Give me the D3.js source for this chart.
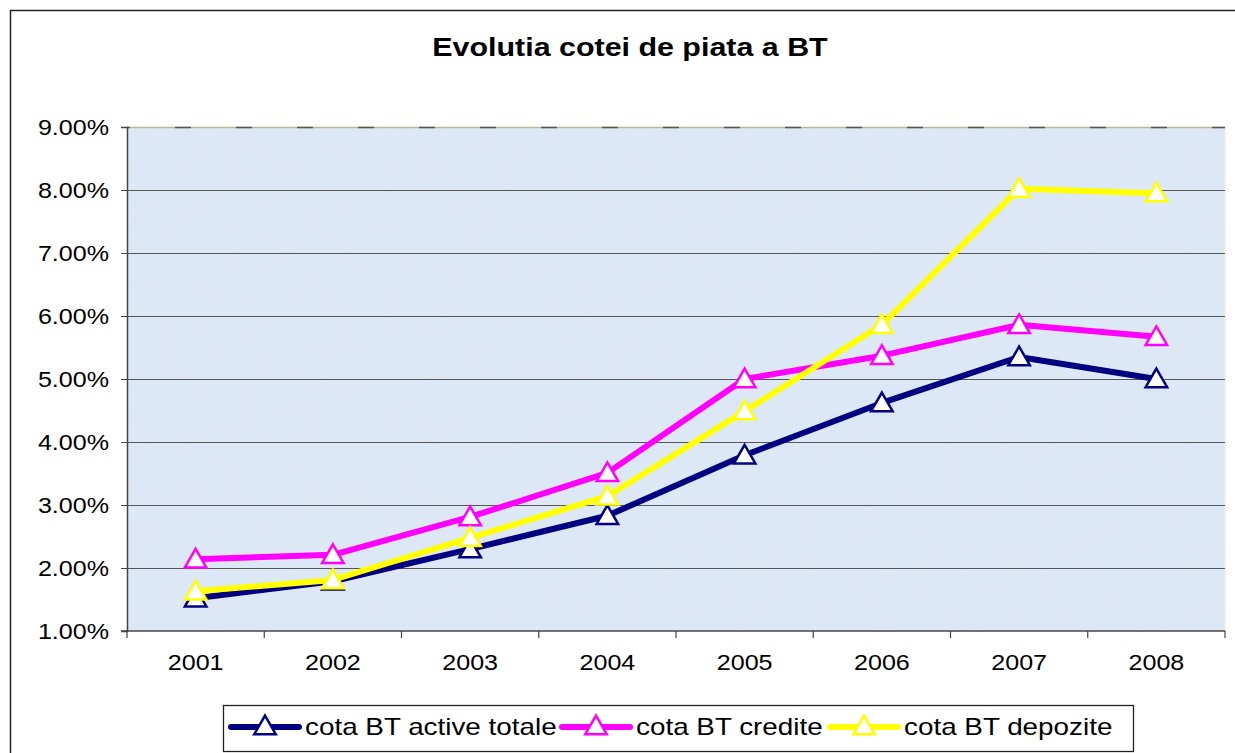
<!DOCTYPE html>
<html><head><meta charset="utf-8">
<script src="https://cdn.jsdelivr.net/npm/d3@7"></script>
<style>body{margin:0;background:#fff}svg{display:block}</style>
</head><body>
<svg id="c" width="1235" height="753"></svg>
<script>
const categories = ["2001","2002","2003","2004","2005","2006","2007","2008"];
const activeTotale = [1.52,1.79,2.30,2.83,3.79,4.62,5.35,5.00];
const credite = [2.14,2.21,2.81,3.51,5.00,5.37,5.86,5.67];
const depozite = [1.63,1.81,2.48,3.14,4.49,5.86,8.02,7.95];
const yTicks = [1,2,3,4,5,6,7,8,9];
const seriesNames = ["cota BT active totale","cota BT credite","cota BT depozite"];
const seriesColors = ["#000080","#ff00ff","#ffff00"];
const title = "Evolutia cotei de piata a BT";

const svg = d3.select("#c");
const font = "Arial, 'Liberation Sans', sans-serif";
const L=127,R=1225,T=127,B=631;

svg.append("rect").attr("x",10.5).attr("y",10.5).attr("width",1300).attr("height",800)
  .attr("fill","#fff").attr("stroke","#222").attr("stroke-width",1.5);

const defs = svg.append("defs");
const f = defs.append("filter").attr("id","tex").attr("x",0).attr("y",0).attr("width",1).attr("height",1);
f.append("feTurbulence").attr("type","fractalNoise").attr("baseFrequency",0.05).attr("numOctaves",4).attr("seed",7).attr("result","n");
f.append("feColorMatrix").attr("in","n").attr("type","matrix")
  .attr("values","0 0 0 0 0.72  0 0 0 0 0.78  0 0 0 0 0.88  1.6 0 0 0 -0.75").attr("result","c");
f.append("feComposite").attr("in","c").attr("in2","SourceGraphic").attr("operator","over");

const x = d3.scaleBand().domain(categories).range([L,R]);
const y = d3.scaleLinear().domain([1,9]).range([B,T]);

svg.append("rect").attr("x",L).attr("y",T).attr("width",R-L).attr("height",B-T)
  .attr("fill","#dde8f7").attr("filter","url(#tex)");
svg.append("line").attr("x1",R).attr("x2",R).attr("y1",T).attr("y2",B).attr("stroke","#f0f0d0").attr("stroke-width",1.5);

function stext(g, tx, ty, str, size, sx, anchor, weight){
  return g.append("text").attr("transform",`translate(${tx},${ty}) scale(${sx},1)`)
    .attr("text-anchor",anchor).attr("font-family",font).attr("font-size",size)
    .attr("font-weight",weight||"normal").attr("fill","#000").text(str);
}

// gridlines
svg.append("g").selectAll("line").data(yTicks.filter(d=>d>1&&d<9)).join("line")
  .attr("x1",L).attr("x2",R).attr("y1",d=>Math.round(y(d))+0.5).attr("y2",d=>Math.round(y(d))+0.5)
  .attr("stroke","#555").attr("stroke-width",1.2);
svg.append("line").attr("x1",L).attr("x2",R).attr("y1",T+0.5).attr("y2",T+0.5).attr("stroke","#b8b898").attr("stroke-width",1.5);
svg.append("line").attr("x1",L).attr("x2",R).attr("y1",T+0.5).attr("y2",T+0.5).attr("stroke","#555").attr("stroke-width",1.5)
  .attr("stroke-dasharray","16,45").attr("stroke-dashoffset",-48);

// axes
const yAxis = d3.axisLeft(y).tickValues(yTicks).tickFormat("").tickSize(6);
const gy = svg.append("g").attr("transform",`translate(${L},0)`).call(yAxis);
gy.select(".domain").attr("stroke","#444").attr("stroke-width",1.5);
gy.selectAll(".tick line").attr("stroke","#444");
yTicks.forEach(d=>stext(svg,109,y(d)+8,d.toFixed(2)+"%",22,1.14,"end"));

const gx = svg.append("g").attr("transform",`translate(0,${B})`);
gx.append("line").attr("x1",L-6).attr("x2",R).attr("stroke","#444").attr("stroke-width",1.5);
gx.selectAll(".tk").data(categories.concat(["end"])).join("line").attr("class","tk")
  .attr("x1",(d,i)=>i<categories.length?x(d):R).attr("x2",(d,i)=>i<categories.length?x(d):R)
  .attr("y1",0).attr("y2",7).attr("stroke","#444").attr("stroke-width",1.2);
categories.forEach(d=>stext(gx,x(d)+x.bandwidth()/2,39,d,22,1.14,"middle"));

// title
stext(svg,630,56,title,26,1.17,"middle","bold");

const allSeries = [activeTotale,credite,depozite];
const line = d3.line().x((d,i)=>x(categories[i])+x.bandwidth()/2).y(d=>y(d));
const tri = d3.symbol().type(d3.symbolTriangle).size(200);
allSeries.forEach((s,k)=>{
  const g = svg.append("g");
  g.append("path").datum(s).attr("d",line).attr("fill","none").attr("stroke",seriesColors[k])
    .attr("stroke-width",6).attr("stroke-linejoin","round");
  g.selectAll("path.m").data(s).join("path").attr("class","m")
    .attr("transform",(d,i)=>`translate(${x(categories[i])+x.bandwidth()/2},${y(d)+2})`)
    .attr("d",tri).attr("fill","#fff").attr("stroke",seriesColors[k]).attr("stroke-width",2.5);
});

// legend
const lg = svg.append("g");
lg.append("rect").attr("x",223.5).attr("y",705.5).attr("width",910).attr("height",46)
  .attr("fill","#fff").attr("stroke","#222").attr("stroke-width",1.3);
const lx = [231,562,830];
seriesNames.forEach((n,k)=>{
  const g = lg.append("g").attr("transform",`translate(${lx[k]},727)`);
  g.append("line").attr("x1",0).attr("x2",68).attr("stroke",seriesColors[k]).attr("stroke-width",6).attr("stroke-linecap","round");
  g.append("path").attr("transform","translate(34,1)").attr("d",tri).attr("fill","#fff").attr("stroke",seriesColors[k]).attr("stroke-width",2.5);
  stext(g,74,8,n,24,1.16,"start");
});
</script>
</body></html>
